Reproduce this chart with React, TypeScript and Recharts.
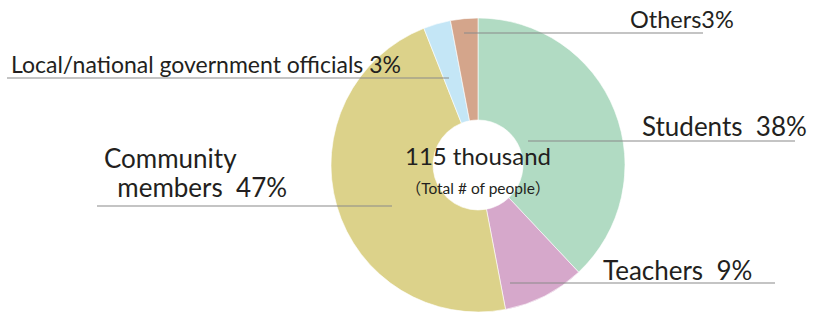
import { PieChart, Pie, Cell } from "recharts";

// share of people by group (percent), clockwise from 12 o'clock
const categories = ["Students", "Teachers", "Community members", "Local/national government officials", "Others"];
const shares = [38, 9, 47, 3, 3];
const colors = ["#b1dbc3", "#d6a8cb", "#dcd28a", "#c4e6f6", "#d4a58b"];

const totalLabel = "115 thousand";
const totalNote = "\uff08Total # of people\uff09";

// label placement (px), per slice
const labelLayout = [
  { x1: 528, x2: 795, ly: 141, tx: 642, ty: 136, size: 26, lines: ["Students\u00a0\u00a0{p}"] },
  { x1: 510, x2: 775, ly: 283, tx: 603, ty: 280, size: 26, lines: ["Teachers\u00a0\u00a0{p}"] },
  { x1: 97, x2: 392, ly: 206, tx: 104, ty: 168, size: 26, lines: ["Community", "\u00a0\u00a0members\u00a0\u00a0{p}"] },
  { x1: 7, x2: 449, ly: 78, tx: 11, ty: 73, size: 23, lines: ["Local/national government officials\u00a0{p}"] },
  { x1: 464, x2: 703, ly: 33, tx: 630, ty: 28, size: 23.5, lines: ["Others{p}"] },
];

const data = categories.map((name, i) => ({ name, value: shares[i] }));
const FONT = "Lato, 'Noto Sans CJK JP', sans-serif";

function renderLabel(props: any) {
  const i = props.index;
  const l = labelLayout[i];
  const pct = shares[i] + "%";
  return (
    <g key={"lbl" + i}>
      <line x1={l.x1} x2={l.x2} y1={l.ly} y2={l.ly} stroke="#8a8a8a" strokeWidth={1.2} />
      {l.lines.map((t, k) => (
        <text
          key={k}
          x={l.tx}
          y={l.ty + k * 29}
          fontSize={l.size}
          fill="#231f20"
          fontFamily={FONT}
        >
          {t.replace("{p}", pct)}
        </text>
      ))}
      {i === 0 && (
        <g>
          <text x={props.cx} y={props.cy} textAnchor="middle" fontSize={24} fill="#231f20" fontFamily={FONT}>
            {totalLabel}
          </text>
          <text x={props.cx} y={props.cy + 29} textAnchor="middle" fontSize={15.5} fill="#231f20" fontFamily={FONT}>
            {totalNote}
          </text>
        </g>
      )}
    </g>
  );
}

export default function App() {
  return (
    <div style={{ position: "absolute", left: 0, top: 0, width: 815, height: 312, background: "#fff" }}>
      <PieChart width={815} height={312} margin={{ top: 0, right: 0, bottom: 0, left: 0 }}>
        <Pie
          data={data}
          dataKey="value"
          nameKey="name"
          cx={478}
          cy={165}
          outerRadius={147}
          innerRadius={45}
          startAngle={90}
          endAngle={-270}
          stroke="#ffffff"
          strokeWidth={0.6}
          label={renderLabel}
          labelLine={false}
          isAnimationActive={false}
        >
          {data.map((d, i) => (
            <Cell key={d.name} fill={colors[i]} />
          ))}
        </Pie>
      </PieChart>
    </div>
  );
}
